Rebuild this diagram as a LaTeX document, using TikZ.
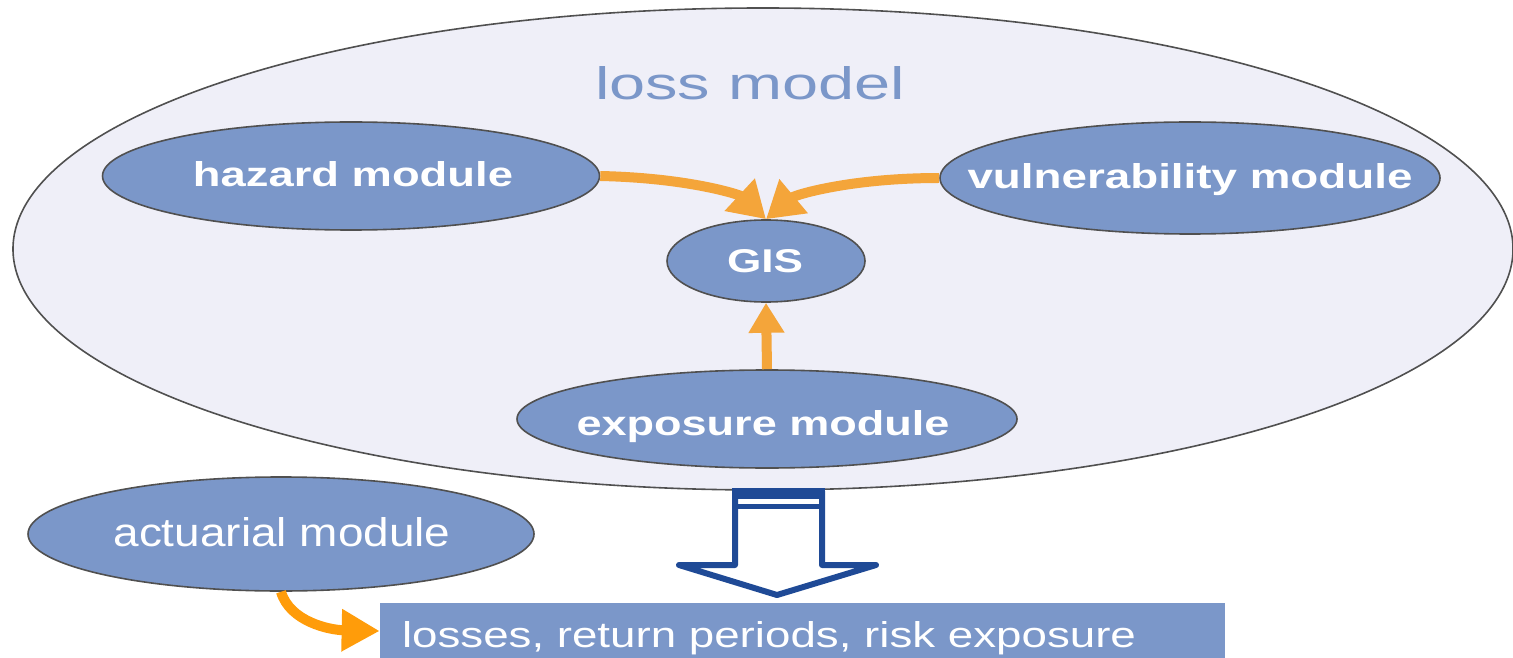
\documentclass[tikz,border=0pt]{standalone}
\usepackage{fontspec}
\setmainfont{Liberation Sans}
\usepackage{graphicx}
\usetikzlibrary{shapes.geometric,arrows.meta}

\definecolor{modfill}{HTML}{7B97C9}
\definecolor{modelbg}{HTML}{EFEFF8}
\definecolor{rimgray}{HTML}{505050}
\definecolor{flow}{HTML}{F4A53A}
\definecolor{flowB}{HTML}{FF9C0A}
\definecolor{outblue}{HTML}{1F4A96}

% one drawing unit
\newlength\pxu \setlength\pxu{0.02cm}
% label set to a given width and ascender height
\newcommand\lbl[3]{\resizebox{#1\pxu}{#2\pxu}{#3}}

\begin{document}
\begin{tikzpicture}[x=0.02cm,y=-0.02cm,
  module/.style={ellipse, draw=rimgray, line width=1.6\pxu, fill=modfill, inner sep=0pt},
  txt/.style={anchor=base, inner sep=0pt, text=white},
  flowarrow/.style={draw=flow, line width=0.2cm, -{Triangle[length=0.72cm,width=0.84cm]}}
]
\useasboundingbox (0,0) rectangle (1513,658);

% the loss model
\node[ellipse, draw=rimgray, line width=1.6\pxu, fill=modelbg, inner sep=0pt,
      minimum width=1500\pxu, minimum height=482\pxu] (lossmodel) at (763,249) {};
\node[anchor=base, inner sep=0pt, text=modfill] (losstitle) at (750,100) {\lbl{310}{33}{loss model}};

% modules inside the loss model
\node[module, minimum width=497\pxu, minimum height=108\pxu] (haz) at (351,176) {};
\node[txt] (hazt) at (353,187) {\lbl{320}{25}{\bfseries hazard module}};

\node[module, minimum width=500\pxu, minimum height=112\pxu] (vul) at (1190,178) {};
\node[txt] (vult) at (1190,189) {\lbl{445}{25}{\bfseries vulnerability module}};

\node[module, minimum width=198\pxu, minimum height=82\pxu] (gis) at (766,261) {};
\node[txt] (gist) at (765,273) {\lbl{76}{23}{\bfseries GIS}};

\node[module, minimum width=500\pxu, minimum height=98\pxu] (exp) at (767,419) {};
\node[txt] (expt) at (763,435) {\lbl{373}{25}{\bfseries exposure module}};

% data flow towards the GIS
\draw[flowarrow] (haz.east) .. controls (690,178) and (740,195) .. (gis.north);
\draw[flowarrow] (vul.west) .. controls (850,178) and (795,195) .. (gis.north);
\draw[flowarrow, -{Triangle[length=0.6cm,width=0.68cm]}] (exp.north) -- (gis.south);

% output block arrow
\draw[outblue, line width=6\pxu, fill=white, line join=round]
  (735,491) -- (735,565) -- (679,565) -- (777,595) -- (876,565) -- (822,565) -- (822,491);
\fill[outblue] (732,488) rectangle (825,499);
\draw[outblue, line width=5\pxu] (735,506) -- (822,506);

% actuarial module and results
\node[module, minimum width=506\pxu, minimum height=114\pxu] (act) at (281,534) {};
\node[txt] (actt) at (282,546) {\lbl{337}{29}{actuarial module}};

\node[rectangle, fill=modfill, inner sep=0pt, minimum width=845\pxu, minimum height=56\pxu] (res) at (802.5,631) {};
\node[txt] (rest) at (769,647) {\lbl{734}{26}{losses, return periods, risk exposure}};

\draw[flowarrow, draw=flowB, -{Triangle[length=0.76cm,width=0.8cm]}]
  (act.south) .. controls (290,622) and (330,630) .. (res.west);
\end{tikzpicture}
\end{document}
